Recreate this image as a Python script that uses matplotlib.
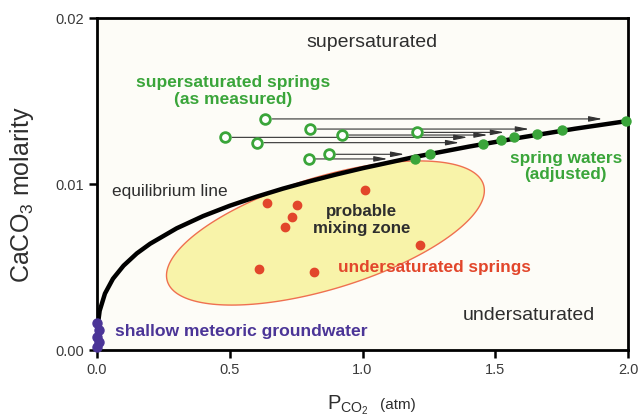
import numpy as np
import matplotlib
matplotlib.use("Agg")
import matplotlib.pyplot as plt
from matplotlib.patches import Polygon

plt.rcParams['font.family'] = ['Liberation Sans', 'DejaVu Sans']
plt.rcParams['mathtext.default'] = 'regular'

# equilibrium line (CaCO3 molarity vs PCO2)
eq_pco2 = [0.0, 0.002, 0.01, 0.03, 0.06, 0.1, 0.15, 0.2, 0.3, 0.4, 0.5,
           0.6, 0.7, 0.8, 0.9, 1.0, 1.2, 1.4, 1.6, 1.8, 2.0]
eq_caco3 = [0.0, 0.00138, 0.00236, 0.00340, 0.00429, 0.00508, 0.00582,
            0.00640, 0.00733, 0.00807, 0.00869, 0.00923, 0.00972, 0.01016,
            0.01057, 0.01095, 0.01164, 0.01225, 0.01281, 0.01333, 0.01380]

# supersaturated springs as measured (open circles) and arrow tips
meas_pco2 = [0.634, 0.804, 1.206, 0.923, 0.483, 0.603, 0.873, 0.797]
meas_caco3 = [0.01392, 0.01331, 0.01311, 0.01295, 0.01281, 0.01249, 0.01179, 0.01151]
arrow_tip_pco2 = [1.904, 1.628, 1.534, 1.472, 1.396, 1.365, 1.158, 1.095]

# spring waters adjusted (filled green)
adj_pco2 = [1.992, 1.752, 1.657, 1.572, 1.521, 1.455, 1.254, 1.198]
adj_caco3 = [0.0138, 0.01325, 0.0130, 0.01285, 0.01265, 0.01241, 0.01181, 0.01151]

# undersaturated springs (red)
under_pco2 = [0.640, 0.753, 0.734, 0.709, 1.009, 1.215, 0.611, 0.816]
under_caco3 = [0.00887, 0.00873, 0.00799, 0.00739, 0.00964, 0.00633, 0.00488, 0.00468]

# shallow meteoric groundwater (purple)
gw_pco2 = [0.001, 0.008, 0.001, 0.008, 0.001]
gw_caco3 = [0.0016, 0.0012, 0.0008, 0.0005, 0.0002]

GREEN = '#3aa53a'
RED = '#e2462b'
PURPLE = '#4b3597'
DARK = '#2e2e2e'

fig = plt.figure(figsize=(6.41, 4.16), dpi=100)
ax = fig.add_axes([97 / 641, 66 / 416, 531 / 641, 332 / 416])
ax.set_facecolor('#fdfcf7')
ax.set_xlim(0, 2.0)
ax.set_ylim(0, 0.02)

# probable mixing zone ellipse, shaped in screen space then mapped to data
sx, sy = 265.0, 16600.0
cx, cy, a, b, ang = 325 - 97, 350 - 233, 165, 56, np.radians(17)
t = np.linspace(0, 2 * np.pi, 200)
ex = cx + a * np.cos(t) * np.cos(ang) - b * np.sin(t) * np.sin(ang)
ey = cy + a * np.cos(t) * np.sin(ang) + b * np.sin(t) * np.cos(ang)
ax.add_patch(Polygon(np.column_stack([ex / sx, ey / sy]), closed=True,
                     facecolor='#f8f3a9', edgecolor='#ef7050', lw=1.0, zorder=1))

ax.plot(eq_pco2, eq_caco3, color='black', lw=3.2, zorder=3, solid_capstyle='butt')

for x0, y0, x1 in zip(meas_pco2, meas_caco3, arrow_tip_pco2):
    ax.annotate('', xy=(x1, y0), xytext=(x0, y0),
                arrowprops=dict(arrowstyle='-|>,head_length=0.8,head_width=0.16',
                                color='#333333', lw=0.8, shrinkA=5, shrinkB=0),
                zorder=2)

ax.plot(meas_pco2, meas_caco3, 'o', ms=7, mfc='white', mec=GREEN, mew=2, zorder=5)
ax.plot(adj_pco2, adj_caco3, 'o', ms=6.5, color=GREEN, zorder=5, clip_on=False)
ax.plot(under_pco2, under_caco3, 'o', ms=6, color=RED, zorder=5)
ax.plot(gw_pco2, gw_caco3, 'o', ms=6.5, color=PURPLE, zorder=6, clip_on=False)

ax.text(1.034, 0.01855, 'supersaturated', fontsize=14, color=DARK, ha='center', va='center')
ax.text(0.513, 0.0156, 'supersaturated springs\n(as measured)', fontsize=12.5, color=GREEN,
        fontweight='bold', ha='center', va='center', linespacing=1.15)
ax.text(0.057, 0.00955, 'equilibrium line', fontsize=12.4, color=DARK, ha='left', va='center')
ax.text(0.996, 0.00785, 'probable\nmixing zone', fontsize=12.2, color=DARK,
        fontweight='bold', ha='center', va='center', linespacing=1.15)
ax.text(0.909, 0.00494, 'undersaturated springs', fontsize=12.4, color=RED,
        fontweight='bold', ha='left', va='center')
ax.text(1.766, 0.01105, 'spring waters\n(adjusted)', fontsize=12.4, color=GREEN,
        fontweight='bold', ha='center', va='center', linespacing=1.15)
ax.text(1.626, 0.00205, 'undersaturated', fontsize=14, color=DARK, ha='center', va='center')
ax.text(0.068, 0.0011, 'shallow meteoric groundwater', fontsize=12.6, color=PURPLE,
        fontweight='bold', ha='left', va='center')

ax.set_xticks([0.0, 0.5, 1.0, 1.5, 2.0])
ax.set_xticklabels(['0.0', '0.5', '1.0', '1.5', '2.0'])
ax.set_yticks([0.0, 0.01, 0.02])
ax.set_yticklabels(['0.00', '0.01', '0.02'])
ax.tick_params(direction='out', length=6, width=1.8, labelsize=10.5,
               labelcolor='#3a3a3a', pad=3)
for s in ax.spines.values():
    s.set_linewidth(2.0)

fig.text(22 / 641, 1 - 195 / 416, 'CaCO$_3$ molarity', rotation=90, fontsize=18,
         color=DARK, ha='center', va='center')
fig.text(327 / 641, 7 / 416, 'P$_{CO_2}$', fontsize=14.5, color=DARK, ha='left', va='baseline')
fig.text(380 / 641, 7 / 416, '(atm)', fontsize=11, color=DARK, ha='left', va='baseline')

fig.savefig('out.png', dpi=100)
